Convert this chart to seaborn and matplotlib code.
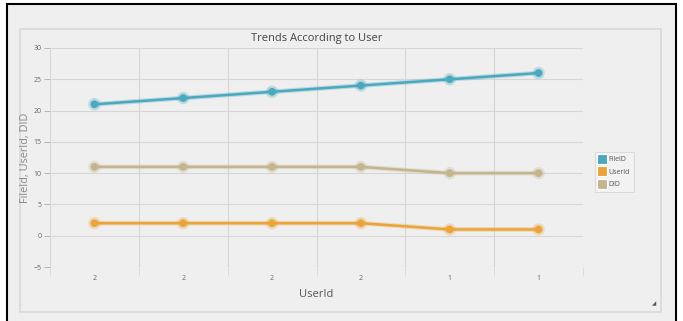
import matplotlib
matplotlib.use("Agg")
import matplotlib.pyplot as plt
import matplotlib.patheffects as pe
from matplotlib.patches import Rectangle
from matplotlib.lines import Line2D
import seaborn as sns
import pandas as pd

# Data
user_ids = ["2", "2", "2", "2", "1", "1"]
file_id = [21, 22, 23, 24, 25, 26]
user_id = [2, 2, 2, 2, 1, 1]
did = [11, 11, 11, 11, 10, 10]

series_names = ["FileID", "UserId", "DID"]
colors = ["#4aa9bf", "#eaa43a", "#c4b58f"]

rows = []
for name, vals in zip(series_names, [file_id, user_id, did]):
    for i, v in enumerate(vals):
        rows.append({"pos": i, "value": v, "series": name})
df = pd.DataFrame(rows)

sns.set_theme(style="white")
plt.rcParams["font.family"] = ["Open Sans", "DejaVu Sans"]

bg = "#efefef"
fig = plt.figure(figsize=(6.83, 3.21), dpi=100)
fig.patch.set_facecolor("white")

# outer frame and inner panel
fig.patches.append(Rectangle((7 / 683, -0.05), 669 / 683, 1 - 4 / 321 + 0.05,
                             transform=fig.transFigure, facecolor=bg,
                             edgecolor="black", linewidth=1.5, zorder=-2))
fig.patches.append(Rectangle((20 / 683, 1 - 312 / 321), 641 / 683, 283 / 321,
                             transform=fig.transFigure, facecolor=bg,
                             edgecolor="#d9d9d9", linewidth=1.2, zorder=-1))

ax = fig.add_axes([50 / 683, 1 - 267 / 321, 533 / 683, 219 / 321])
ax.set_facecolor(bg)
ax.set_zorder(1)

sns.lineplot(data=df, x="pos", y="value", hue="series", palette=colors,
             hue_order=series_names, marker="o", markersize=5.5,
             markeredgewidth=0, linewidth=1.8, legend=False, ax=ax, zorder=3)
for line in ax.get_lines():
    line.set_path_effects([pe.Stroke(linewidth=3.4, foreground=line.get_color(), alpha=0.3),
                           pe.Normal()])

ax.set_xlim(-0.5, 5.5)
ax.set_ylim(-5, 30)
ax.set_yticks(range(-5, 31, 5))
ax.set_xticks(range(6))
ax.set_xticklabels(user_ids)
ax.set_xticks([i + 0.5 for i in range(-1, 6)], minor=True)
ax.grid(False)
for y in range(-5, 31, 5):
    ax.axhline(y, color="#d6d6d6", linewidth=0.8, zorder=1)
for x in [i + 0.5 for i in range(0, 5)]:
    ax.axvline(x, color="#d6d6d6", linewidth=0.8, zorder=1)
for s in ax.spines.values():
    s.set_visible(False)
ax.axvline(-0.5, color="#d6d6d6", linewidth=0.8, zorder=1)
ax.axvline(5.5, color="#d6d6d6", linewidth=0.8, zorder=1)

ax.tick_params(axis="y", which="major", length=4, width=0.6, color="#aaaaaa",
               labelsize=5, labelcolor="#666666", pad=2, left=True)
ax.tick_params(axis="x", which="major", length=0, labelsize=5,
               labelcolor="#666666", pad=6)
ax.tick_params(axis="x", which="minor", length=6, width=0.6, color="#d6d6d6",
               bottom=True)

ax.set_xlabel("UserId", fontsize=8, color="#555555", labelpad=5)
ax.set_ylabel("FileId, UserId, DID", fontsize=7.8, color="#888888", labelpad=2)
ax.set_title("Trends According to User", fontsize=8, color="#444444", pad=5)

handles = [Line2D([0], [0], marker="s", linestyle="none", markersize=7,
                  markerfacecolor=c, markeredgecolor="white", markeredgewidth=0.8)
           for c in colors]
leg = fig.legend(handles, series_names, loc="center left",
                 bbox_to_anchor=(592 / 683, 1 - 172 / 321), fontsize=5,
                 frameon=True, handlelength=0.8, handletextpad=0.4,
                 borderpad=0.6, labelspacing=0.8)
leg.get_frame().set_facecolor("#f4f4f4")
leg.get_frame().set_edgecolor("#d0d0d0")
leg.get_frame().set_linewidth(0.6)
leg.get_frame().set_boxstyle("square", pad=0)
for t in leg.get_texts():
    t.set_color("#555555")

# resize grip in the panel corner
fig.text(652 / 683, 1 - 305 / 321, "◢", fontsize=4, color="#555555",
         family=["DejaVu Sans"])

fig.savefig("out.png", dpi=100, facecolor=fig.get_facecolor())
